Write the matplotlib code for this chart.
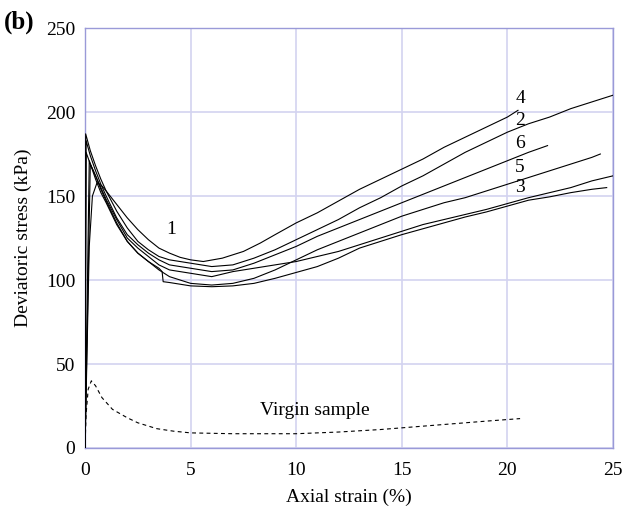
import matplotlib
matplotlib.use("Agg")
import matplotlib.pyplot as plt

# ---- data ----
# curve ending at 20.5 % (label 4), peak at ~0.57 %
x_c4 = [0, 0.1, 0.2, 0.35, 0.57, 0.8, 1, 1.5, 2, 2.5, 3, 3.5, 4, 4.5, 5, 5.6, 6.5, 7.5, 8.3, 9, 10, 11, 12, 13, 14, 15, 16, 17, 18, 19, 20, 20.5]
y_c4 = [0, 60, 120, 150, 158, 156, 153, 145, 137, 130, 124, 119, 116, 113.5, 112, 111, 113, 117, 122, 127, 134, 140, 147, 154, 160, 166, 172, 179, 185, 191, 197, 201]

# curve ending at 25 % (label 2)
x_c2 = [0, 0.03, 0.25, 0.5, 0.75, 1, 1.5, 2, 2.5, 3, 3.5, 4, 5, 6, 7, 8, 9, 10, 11, 12, 13, 14, 15, 16, 17, 18, 19, 20, 21, 22, 23, 24, 25]
y_c2 = [0, 187, 177, 168, 160, 153, 141, 131, 123, 118, 114, 112, 110, 108, 109, 113, 118, 124, 130, 136, 143, 149, 156, 162, 169, 176, 182, 188, 193, 197, 202, 206, 210]

# curve ending at 21.9 % (label 6)
x_c6 = [0, 0.05, 0.25, 0.5, 0.75, 1, 1.5, 2, 2.5, 3, 3.5, 4, 5, 6, 7, 8, 9, 10, 11, 12, 13, 14, 15, 16, 17, 18, 19, 20, 21, 21.9]
y_c6 = [0, 183, 174, 165, 157, 150, 137, 127, 121, 116, 112, 109, 107, 105, 106, 110, 115, 120, 126, 131, 136, 141, 146, 151, 156, 161, 166, 171, 176, 180]

# curve ending at 24.4 % (label 5)
x_c5 = [0, 0.2, 0.5, 0.75, 1, 1.5, 2, 2.5, 3, 3.5, 4, 5, 6, 7, 8, 9, 10, 11, 12, 13, 14, 15, 16, 17, 18, 19, 20, 21, 22, 23, 24, 24.4]
y_c5 = [0, 171, 160, 152, 146, 133, 123, 116, 111, 106, 102, 98, 97, 98, 101, 106, 112, 118, 123, 128, 133, 138, 142, 146, 149, 153, 157, 161, 165, 169, 173, 175]

# curve ending at 25 % (label 1)
x_c1 = [0, 0.25, 0.5, 0.75, 1, 1.5, 2, 2.5, 3, 3.5, 4, 5, 6, 7, 8, 9, 10, 11, 12, 13, 14, 15, 16, 17, 18, 19, 20, 21, 22, 23, 24, 25]
y_c1 = [0, 169, 162, 155, 148, 136, 125, 119, 114, 109, 106, 104, 102, 105, 107, 109, 111, 114, 117, 121, 125, 129, 133, 136, 139, 142, 145.5, 149, 152, 155, 159, 162]

# curve ending at 24.7 % (label 3), with a step near 3.7 %
x_c3 = [0, 0.05, 0.25, 0.5, 0.75, 1, 1.5, 2, 2.5, 3, 3.5, 3.65, 3.7, 4, 5, 6, 7, 8, 9, 10, 11, 12, 13, 14, 15, 16, 17, 18, 19, 20, 21, 22, 23, 24, 24.7]
y_c3 = [0, 176, 169, 162, 154, 147, 134, 123, 116, 111, 107, 105, 99, 98.5, 96.5, 96, 96.5, 98, 101, 104.5, 108, 113, 119, 123, 127, 130.5, 134, 137.5, 140.5, 144, 147.5, 149.5, 152, 154, 155]

# virgin sample (dashed)
x_virgin = [0, 0.05, 0.15, 0.3, 0.5, 0.8, 1.3, 2, 2.5, 3.4, 4.2, 5, 7, 10, 12, 14, 15, 17, 19, 20.6]
y_virgin = [0, 20, 35, 40, 37, 30, 23, 18, 15, 11.5, 10, 9, 8.5, 8.5, 9.5, 11, 12, 14, 16, 17.5]

curve_labels = ["4", "2", "6", "5", "3", "1"]
label_x = [20.6, 20.6, 20.6, 20.6, 20.6, 4.1]
label_y = [208, 195, 181, 167, 155, 130]

x_ticks = [0, 5, 10, 15, 20, 25]
y_ticks = [0, 50, 100, 150, 200, 250]

# ---- figure ----
plt.rcParams['font.family'] = ['Liberation Serif', 'DejaVu Serif']
fig = plt.figure(figsize=(6.27, 5.12), dpi=100)
ax = fig.add_axes([0.1356, 0.125, 0.8421, 0.8203])

grid_col = '#d3d3f0'
spine_col = '#9a9ad8'

for xs, ys in [(x_c4, y_c4), (x_c2, y_c2), (x_c6, y_c6), (x_c5, y_c5), (x_c1, y_c1), (x_c3, y_c3)]:
    ax.plot(xs, ys, color='black', lw=0.8, zorder=3)

ax.plot(x_virgin, y_virgin, color='black', lw=0.8, dashes=(3.5, 3), zorder=3)

for t, xx, yy in zip(curve_labels, label_x, label_y):
    ax.text(xx, yy, t, fontsize=14, ha='center', va='center', zorder=4)

ax.text(10.9, 22.5, "Virgin sample", fontsize=14, ha='center', va='center')

ax.set_xlim(0, 25)
ax.set_ylim(0, 250)
ax.set_xticks(x_ticks)
ax.set_yticks(y_ticks)
ax.tick_params(axis='x', length=0, labelsize=14, pad=10)
ax.tick_params(axis='y', length=0, labelsize=14, pad=7)
ax.grid(True, color=grid_col, lw=1.2, zorder=0)
ax.set_axisbelow(True)
for s in ax.spines.values():
    s.set_color(spine_col)
    s.set_linewidth(1.0)

ax.set_xlabel("Axial strain (%)", fontsize=14, labelpad=7)
ax.set_ylabel("Deviatoric stress (kPa)", fontsize=14, labelpad=10)

fig.text(0.006, 0.957, "(b)", fontsize=18, fontweight='bold', ha='left', va='center')

fig.savefig("out.png", dpi=100)
